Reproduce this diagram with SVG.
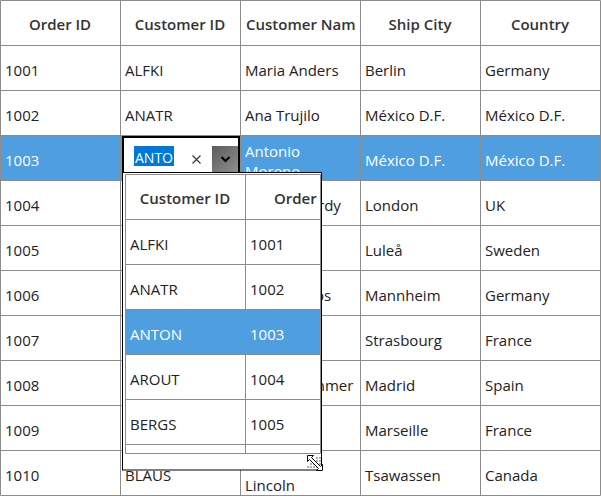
<svg xmlns="http://www.w3.org/2000/svg" width="601" height="496" viewBox="0 0 601 496">
<style>
text{font-family:"Open Sans","Noto Sans","Liberation Sans",sans-serif;font-size:15px;fill:#222}
.h{font-weight:600;fill:#333;text-anchor:middle}
.w{fill:#fff}
.g{stroke:#8c8c8c;stroke-width:1;fill:none}
.pg{stroke:#8c8c8c;stroke-width:1;fill:none}
.sel{fill:#4e9ee0}
</style>
<defs>
<clipPath id="c1003"><rect x="240" y="135" width="120" height="37.5"/></clipPath>
<linearGradient id="btn" x1="0" y1="0" x2="1" y2="1">
<stop offset="0" stop-color="#5c5c5c"/>
<stop offset="1" stop-color="#8e8e8e"/>
</linearGradient>
</defs>
<rect x="0" y="0" width="601" height="496" fill="#fff"/>
<g id="grid">
<rect class="sel" x="0" y="135" width="600" height="45"/>
<g id="gridlines">
<path class="g" d="M0.5 0.5H600.5V495.5H0.5Z M0 45.5H601 M0 90.5H601 M0 135.5H601 M0 180.5H601 M0 225.5H601 M0 270.5H601 M0 315.5H601 M0 360.5H601 M0 405.5H601 M0 450.5H601 M120.5 0V496 M240.5 0V496 M360.5 0V496 M480.5 0V496"/>
</g>
<g id="header">
<text class="h" x="60" y="30">Order ID</text>
<text class="h" x="180" y="30">Customer ID</text>
<text class="h" x="246" y="30" style="text-anchor:start">Customer Nam</text>
<text class="h" x="420" y="30">Ship City</text>
<text class="h" x="540" y="30">Country</text>
</g>
<g id="row1001">
<text x="5" y="76">1001</text><text x="125" y="76">ALFKI</text><text x="245" y="76">Maria Anders</text><text x="365" y="76">Berlin</text><text x="485" y="76">Germany</text>
</g>
<g id="row1002">
<text x="5" y="121">1002</text><text x="125" y="121">ANATR</text><text x="245" y="121">Ana Trujilo</text><text x="365" y="121">México D.F.</text><text x="485" y="121">México D.F.</text>
</g>
<g id="row1003">
<text class="w" x="5" y="166">1003</text>
<g clip-path="url(#c1003)"><text class="w" x="245" y="157">Antonio</text><text class="w" x="245" y="177">Moreno</text></g>
<text class="w" x="365" y="166">México D.F.</text><text class="w" x="485" y="166">México D.F.</text>
</g>
<g id="row1004"><text x="5" y="211">1004</text><text x="318" y="211">rdy</text><text x="365" y="211">London</text><text x="485" y="211">UK</text></g>
<g id="row1005"><text x="5" y="256">1005</text><text x="365" y="256">Luleå</text><text x="485" y="256">Sweden</text></g>
<g id="row1006"><text x="5" y="301">1006</text><text x="315" y="301">os</text><text x="365" y="301">Mannheim</text><text x="485" y="301">Germany</text></g>
<g id="row1007"><text x="5" y="346">1007</text><text x="365" y="346">Strasbourg</text><text x="485" y="346">France</text></g>
<g id="row1008"><text x="5" y="391">1008</text><text x="311" y="391">mmer</text><text x="365" y="391">Madrid</text><text x="485" y="391">Spain</text></g>
<g id="row1009"><text x="5" y="436">1009</text><text x="365" y="436">Marseille</text><text x="485" y="436">France</text></g>
<g id="row1010"><text x="5" y="481">1010</text><text x="125" y="481">BLAUS</text><text x="245" y="491">Lincoln</text><text x="365" y="481">Tsawassen</text><text x="485" y="481">Canada</text></g>
</g>
<g id="editor">
<rect x="123" y="137" width="116" height="36" fill="#fff" stroke="#000" stroke-width="2"/>
<rect x="134" y="146" width="40" height="20" fill="#0078d7"/>
<text class="w" x="135" y="163" textLength="38" lengthAdjust="spacingAndGlyphs">ANTO</text>
<path d="M192.5 155.5L200.5 163.5M200.5 155.5L192.5 163.5" stroke="#333" stroke-width="1.1" fill="none"/>
<rect x="212" y="146" width="26" height="26" fill="url(#btn)"/>
<path d="M221.5 157L225.5 161L229.5 157" stroke="#000" stroke-width="2" fill="none"/>
</g>
<g id="popup">
<rect x="122.5" y="172.5" width="199" height="297.5" fill="#fff" stroke="#000" stroke-width="1"/>
<rect class="sel" x="125" y="309" width="195" height="45"/>
<path class="pg" d="M125.5 174.5H320.5V453.5H125.5Z M125 219.5H320 M125 264.5H320 M125 309.5H320 M125 354.5H320 M125 399.5H320 M125 444.5H320 M245.5 174V453"/>
<text class="h" x="185" y="204">Customer ID</text>
<text class="h" x="274" y="204" style="text-anchor:start">Order</text>
<text x="130" y="250">ALFKI</text><text x="250" y="250">1001</text>
<text x="130" y="295">ANATR</text><text x="250" y="295">1002</text>
<text class="w" x="130" y="340">ANTON</text><text class="w" x="250" y="340">1003</text>
<text x="130" y="385">AROUT</text><text x="250" y="385">1004</text>
<text x="130" y="430">BERGS</text><text x="250" y="430">1005</text>
<g id="grip">
<g fill="#b0b0b0">
<rect x="316" y="457" width="2" height="2"/><rect x="319" y="457" width="2" height="2"/>
<rect x="313" y="460" width="2" height="2"/><rect x="316" y="460" width="2" height="2"/><rect x="319" y="460" width="2" height="2"/>
<rect x="310" y="463" width="2" height="2"/><rect x="313" y="463" width="2" height="2"/><rect x="316" y="463" width="2" height="2"/><rect x="319" y="463" width="2" height="2"/>
<rect x="307" y="466" width="2" height="2"/><rect x="310" y="466" width="2" height="2"/><rect x="313" y="466" width="2" height="2"/><rect x="316" y="466" width="2" height="2"/>
</g>
<path d="M307.5 455.5L313.5 455.5L311.5 457.5L320.5 466.5L322.5 464.5L322.5 470.5L316.5 470.5L318.5 468.5L309.5 459.5L307.5 461.5Z" fill="#fff" stroke="#000" stroke-width="1"/>
</g>
</g>
</svg>
